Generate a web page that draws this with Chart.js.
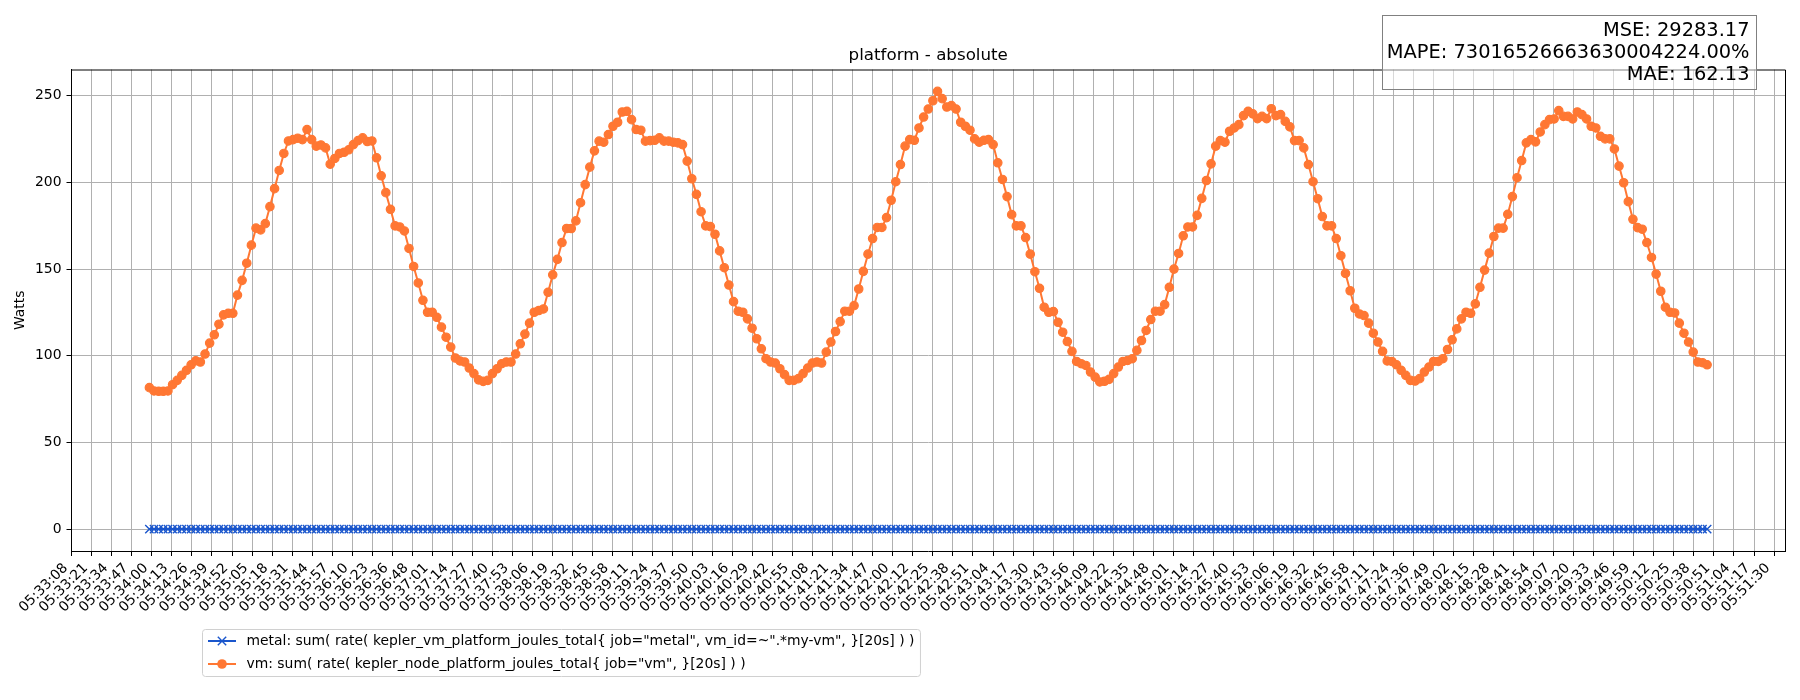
<!DOCTYPE html>
<html>
<head>
<meta charset="utf-8">
<title>platform - absolute</title>
<script src="https://cdn.jsdelivr.net/npm/chart.js@4.4.0/dist/chart.umd.min.js"></script>
<style>
  html, body { margin: 0; padding: 0; background: #fff; }
  #wrap { width: 1800px; height: 700px; }
</style>
</head>
<body>
<div id="wrap"><canvas id="mycanvas" width="1800" height="700"></canvas></div>
<script>
// samples every 3 s starting at 05:33:58.9
var firstSampleSec = 5 * 3600 + 33 * 60 + 58.9;
var sampleStepSec = 3;

var vmWatts = [
  81.6, 79.7, 79.5, 79.5, 79.7, 83.3, 85.8, 88.7, 91.6, 94.8,
  97.1, 96.4, 101.0, 107.3, 112.1, 118.2, 123.6, 124.5, 124.5, 135.0,
  143.5, 153.4, 163.8, 173.6, 172.6, 176.2, 186.0, 196.4, 206.9, 216.7,
  223.9, 224.7, 225.5, 224.7, 230.5, 224.7, 220.9, 221.6, 219.9, 210.5,
  213.8, 216.7, 217.4, 218.8, 221.8, 224.1, 225.7, 223.6, 223.9, 214.2,
  203.8, 194.1, 184.5, 174.9, 174.3, 172.0, 161.9,
  151.5, 142.0, 132.0, 125.1, 125.1, 122.2, 116.5, 110.7, 105.0, 98.7,
  97.0, 96.4, 92.9, 89.7, 86.1, 85.2, 85.8, 89.7, 92.5, 95.4,
  96.4, 96.4, 101.0, 106.9, 112.5, 118.8, 125.1, 126.1, 127.0, 136.6,
  146.7, 155.6, 165.3, 173.4, 173.4, 177.8, 188.3, 198.7, 208.8, 218.2,
  223.8, 223.2, 227.6, 232.4, 234.7, 240.6, 241.0, 236.2, 230.5, 230.1,
  223.8, 224.1, 224.3, 225.7, 223.8, 223.8,
  223.2, 222.8, 221.8, 212.3, 202.1, 193.1, 183.1, 174.9, 174.5, 170.1,
  160.5, 150.8, 140.8, 131.2, 125.7, 125.1, 121.3, 115.9, 109.8, 104.0,
  98.3, 96.4, 95.8, 92.5, 89.1, 85.8, 85.8, 86.8, 89.7, 92.9,
  95.8, 96.4, 95.8, 102.1, 107.9, 114.0, 119.7, 125.7, 125.7, 128.9,
  138.5, 148.7, 158.6, 167.6, 174.0, 174.0, 179.7, 189.7, 200.4, 210.3,
  220.9, 224.7, 224.3, 231.4, 237.7, 242.3,
  247.1, 252.5, 248.3, 243.5, 244.3, 242.3, 234.7, 232.4, 230.1, 225.1,
  223.2, 224.3, 224.7, 221.8, 211.3, 201.7, 191.8, 181.4, 174.9, 174.9,
  168.2, 158.6, 148.5, 138.9, 128.0, 125.1, 125.5, 119.3, 113.6, 108.2,
  102.5, 96.7, 95.4, 94.4, 90.6, 87.7, 84.9, 85.3, 86.4, 89.7,
  93.5, 96.7, 97.3, 98.3, 103.1, 108.8, 114.6, 120.9, 125.7, 125.7,
  129.5, 139.5, 150.0, 159.0, 169.2, 174.3,
  174.3, 181.0, 190.8, 201.1, 210.7, 220.9, 224.1, 223.2, 229.5, 231.4,
  233.3, 238.5, 241.0, 239.5, 236.8, 238.1, 236.8, 242.5, 238.5, 239.1,
  235.2, 232.0, 224.1, 224.1, 219.9, 210.3, 200.4, 190.6, 180.3, 174.9,
  174.9, 167.6, 157.7, 147.5, 137.5, 127.4, 124.1, 123.2, 118.8, 113.0,
  107.9, 102.5, 97.0, 96.7, 94.8, 91.6, 88.7, 85.8, 85.4, 86.8,
  90.6, 93.5, 96.7, 96.7, 98.3, 103.6,
  109.2, 115.5, 121.3, 125.1, 124.5, 129.9, 139.5, 149.4, 159.2, 168.8,
  173.6, 173.6, 181.6, 191.8, 202.7, 212.6, 222.8, 224.7, 223.4, 229.1,
  233.3, 236.2, 236.6, 241.4, 238.1, 238.1, 236.6, 240.6, 239.1, 236.6,
  232.4, 231.4, 226.6, 225.1, 225.1, 219.3, 209.4, 199.8, 188.9, 178.7,
  173.9, 173.0, 165.3, 156.7, 147.1, 137.2, 128.0, 125.1, 124.7, 118.8,
  113.0, 107.9, 102.1, 96.4, 96.0, 94.8
];

var metalWatts = [
  0, 0, 0, 0, 0, 0, 0, 0, 0, 0, 0, 0, 0, 0, 0, 0, 0, 0, 0, 0,
  0, 0, 0, 0, 0, 0, 0, 0, 0, 0, 0, 0, 0, 0, 0, 0, 0, 0, 0, 0,
  0, 0, 0, 0, 0, 0, 0, 0, 0, 0, 0, 0, 0, 0, 0, 0, 0, 0, 0, 0,
  0, 0, 0, 0, 0, 0, 0, 0, 0, 0, 0, 0, 0, 0, 0, 0, 0, 0, 0, 0,
  0, 0, 0, 0, 0, 0, 0, 0, 0, 0, 0, 0, 0, 0, 0, 0, 0, 0, 0, 0,
  0, 0, 0, 0, 0, 0, 0, 0, 0, 0, 0, 0, 0, 0, 0, 0, 0, 0, 0, 0,
  0, 0, 0, 0, 0, 0, 0, 0, 0, 0, 0, 0, 0, 0, 0, 0, 0, 0, 0, 0,
  0, 0, 0, 0, 0, 0, 0, 0, 0, 0, 0, 0, 0, 0, 0, 0, 0, 0, 0, 0,
  0, 0, 0, 0, 0, 0, 0, 0, 0, 0, 0, 0, 0, 0, 0, 0, 0, 0, 0, 0,
  0, 0, 0, 0, 0, 0, 0, 0, 0, 0, 0, 0, 0, 0, 0, 0, 0, 0, 0, 0,
  0, 0, 0, 0, 0, 0, 0, 0, 0, 0, 0, 0, 0, 0, 0, 0, 0, 0, 0, 0,
  0, 0, 0, 0, 0, 0, 0, 0, 0, 0, 0, 0, 0, 0, 0, 0, 0, 0, 0, 0,
  0, 0, 0, 0, 0, 0, 0, 0, 0, 0, 0, 0, 0, 0, 0, 0, 0, 0, 0, 0,
  0, 0, 0, 0, 0, 0, 0, 0, 0, 0, 0, 0, 0, 0, 0, 0, 0, 0, 0, 0,
  0, 0, 0, 0, 0, 0, 0, 0, 0, 0, 0, 0, 0, 0, 0, 0, 0, 0, 0, 0,
  0, 0, 0, 0, 0, 0, 0, 0, 0, 0, 0, 0, 0, 0, 0, 0, 0, 0, 0, 0,
  0, 0, 0, 0, 0, 0, 0, 0, 0, 0, 0, 0, 0, 0, 0, 0, 0
];

var tickLabels = [
  "05:33:08", "05:33:21", "05:33:34", "05:33:47", "05:34:00", "05:34:13", "05:34:26", "05:34:39", "05:34:52",
  "05:35:05", "05:35:18", "05:35:31", "05:35:44", "05:35:57", "05:36:10", "05:36:23", "05:36:36", "05:36:48",
  "05:37:01", "05:37:14", "05:37:27", "05:37:40", "05:37:53", "05:38:06", "05:38:19", "05:38:32", "05:38:45",
  "05:38:58", "05:39:11", "05:39:24", "05:39:37", "05:39:50", "05:40:03", "05:40:16", "05:40:29", "05:40:42",
  "05:40:55", "05:41:08", "05:41:21", "05:41:34", "05:41:47", "05:42:00", "05:42:12", "05:42:25", "05:42:38",
  "05:42:51", "05:43:04", "05:43:17", "05:43:30", "05:43:43", "05:43:56", "05:44:09", "05:44:22", "05:44:35",
  "05:44:48", "05:45:01", "05:45:14", "05:45:27", "05:45:40", "05:45:53", "05:46:06", "05:46:19", "05:46:32",
  "05:46:45", "05:46:58", "05:47:11", "05:47:24", "05:47:36", "05:47:49", "05:48:02", "05:48:15", "05:48:28",
  "05:48:41", "05:48:54", "05:49:07", "05:49:20", "05:49:33", "05:49:46", "05:49:59", "05:50:12", "05:50:25",
  "05:50:38", "05:50:51", "05:51:04", "05:51:17", "05:51:30"
];
var tickFirstSec = 5 * 3600 + 33 * 60 + 8.69;
var tickLastSec = 5 * 3600 + 51 * 60 + 30.2;

var yTickValues = [0, 50, 100, 150, 200, 250];

var metalLabel = 'metal: sum( rate( kepler_vm_platform_joules_total{ job="metal", vm_id=~".*my-vm", }[20s] ) )';
var vmLabel = 'vm: sum( rate( kepler_node_platform_joules_total{ job="vm", }[20s] ) )';
var titleText = 'platform - absolute';
var yTitle = 'Watts';
var metricLines = ['MSE: 29283.17', 'MAPE: 73016526663630004224.00%', 'MAE: 162.13'];

var blue = '#1a56cc';
var orange = '#ff7733';
var FONT = '"DejaVu Sans", "Liberation Sans", sans-serif';

// x positions of samples and ticks
var sampleTimes = [];
for (var i in vmWatts) {
  sampleTimes.push(firstSampleSec + i * sampleStepSec);
}
var tickSecs = [];
for (var k = 0; k < tickLabels.length; k++) {
  tickSecs.push(tickFirstSec + k * (tickLastSec - tickFirstSec) / (tickLabels.length - 1));
}
var span = sampleTimes[sampleTimes.length - 1] - sampleTimes[0];
var xMin = sampleTimes[0] - 0.05 * span;
var xMax = sampleTimes[sampleTimes.length - 1] + 0.05 * span;
var yMaxData = Math.max.apply(null, vmWatts);
var yMin = -0.05 * yMaxData;
var yMax = yMaxData * 1.05;

var metalPoints = metalWatts.map(function (v, i) { return { x: sampleTimes[i], y: v }; });
var vmPoints = vmWatts.map(function (v, i) { return { x: sampleTimes[i], y: v }; });

Chart.defaults.font.family = FONT;

var decor = {
  id: 'decor',
  afterDraw: function (chart) {
    var c = chart.ctx, a = chart.chartArea;
    c.save();
    // top + right spines
    c.strokeStyle = '#000';
    c.lineWidth = 1;
    c.beginPath();
    c.moveTo(a.left, a.top + 0.5);
    c.lineTo(a.right + 0.5, a.top + 0.5);
    c.lineTo(a.right + 0.5, a.bottom);
    c.stroke();

    // title
    c.fillStyle = '#000';
    c.font = '16.7px ' + FONT;
    c.textAlign = 'center';
    c.textBaseline = 'alphabetic';
    c.fillText(titleText, (a.left + a.right) / 2, 60);

    // legend
    c.font = '13.9px ' + FONT;
    var lx = 202.5, ly = 629.5, textX = 246.5;
    var tw = Math.max(c.measureText(metalLabel).width, c.measureText(vmLabel).width);
    var lw = textX + tw + 6 - lx, lh = 47;
    c.beginPath();
    c.roundRect(lx, ly, lw, lh, 3);
    c.fillStyle = 'rgba(255,255,255,0.8)';
    c.fill();
    c.strokeStyle = '#d0d0d0';
    c.lineWidth = 1;
    c.stroke();
    var rows = [
      { label: metalLabel, color: blue, y: 641, marker: 'x' },
      { label: vmLabel, color: orange, y: 664, marker: 'o' }
    ];
    rows.forEach(function (r) {
      c.strokeStyle = r.color;
      c.lineWidth = 2;
      c.beginPath();
      c.moveTo(208, r.y);
      c.lineTo(236, r.y);
      c.stroke();
      if (r.marker === 'x') {
        c.lineWidth = 1.4;
        c.beginPath();
        c.moveTo(222 - 4.2, r.y - 4.2); c.lineTo(222 + 4.2, r.y + 4.2);
        c.moveTo(222 - 4.2, r.y + 4.2); c.lineTo(222 + 4.2, r.y - 4.2);
        c.stroke();
      } else {
        c.fillStyle = r.color;
        c.beginPath();
        c.arc(222, r.y, 4.8, 0, Math.PI * 2);
        c.fill();
      }
      c.fillStyle = '#000';
      c.textAlign = 'left';
      c.textBaseline = 'middle';
      c.fillText(r.label, textX, r.y);
    });

    // metrics box
    c.fillStyle = 'rgba(255,255,255,0.5)';
    c.fillRect(1382.5, 15.5, 374, 74);
    c.strokeStyle = '#808080';
    c.lineWidth = 1;
    c.strokeRect(1382.5, 15.5, 374, 74);
    c.fillStyle = '#000';
    c.font = '19.4px ' + FONT;
    c.textAlign = 'right';
    c.textBaseline = 'alphabetic';
    c.fillText(metricLines[0], 1749.5, 36);
    c.fillText(metricLines[1], 1749.5, 58.3);
    c.fillText(metricLines[2], 1749.5, 80);
    c.restore();
  }
};

var ctx = document.getElementById('mycanvas');
var chart = new Chart(ctx, {
  type: 'line',
  data: {
    datasets: [
      {
        label: metalLabel,
        data: metalPoints,
        borderColor: blue,
        backgroundColor: blue,
        borderWidth: 2,
        pointStyle: 'crossRot',
        pointRadius: 5.9,
        pointBorderWidth: 1.4,
        pointBorderColor: blue,
        fill: false,
        tension: 0
      },
      {
        label: vmLabel,
        data: vmPoints,
        borderColor: orange,
        backgroundColor: orange,
        borderWidth: 2,
        pointStyle: 'circle',
        pointRadius: 4.2,
        pointBorderWidth: 1.2,
        pointBorderColor: orange,
        pointBackgroundColor: orange,
        fill: false,
        tension: 0
      }
    ]
  },
  options: {
    responsive: false,
    animation: false,
    devicePixelRatio: 1,
    layout: { padding: { top: 69.5, right: 15, left: 0, bottom: 0 } },
    plugins: {
      legend: { display: false },
      title: { display: false },
      tooltip: { enabled: false }
    },
    scales: {
      x: {
        type: 'linear',
        min: xMin,
        max: xMax,
        afterBuildTicks: function (scale) {
          scale.ticks = tickSecs.map(function (v) { return { value: v }; });
        },
        afterFit: function (scale) {
          scale.height = 149;
          scale.paddingLeft = 0;
          scale.paddingRight = 0;
        },
        grid: { color: '#b0b0b0', lineWidth: 1, tickColor: '#000', tickLength: 5, drawTicks: true },
        border: { display: true, color: '#000', width: 1 },
        ticks: {
          autoSkip: false,
          minRotation: 45,
          maxRotation: 45,
          padding: 4,
          labelOffset: -6,
          color: '#000',
          font: { size: 13.9 },
          callback: function (value, index) { return tickLabels[index]; }
        }
      },
      y: {
        min: yMin,
        max: yMax,
        afterBuildTicks: function (scale) {
          scale.ticks = yTickValues.map(function (v) { return { value: v }; });
        },
        afterFit: function (scale) {
          scale.width = 71.5;
          scale.paddingTop = 0;
          scale.paddingBottom = 0;
        },
        grid: { color: '#b0b0b0', lineWidth: 1, tickColor: '#000', tickLength: 5, drawTicks: true },
        border: { display: true, color: '#000', width: 1 },
        title: { display: true, text: yTitle, color: '#000', font: { size: 13.9 }, padding: { top: 12.5, bottom: 0 } },
        ticks: {
          padding: 5,
          color: '#000',
          font: { size: 13.9 },
          callback: function (value) { return String(value); }
        }
      }
    }
  },
  plugins: [decor]
});
</script>
</body>
</html>
